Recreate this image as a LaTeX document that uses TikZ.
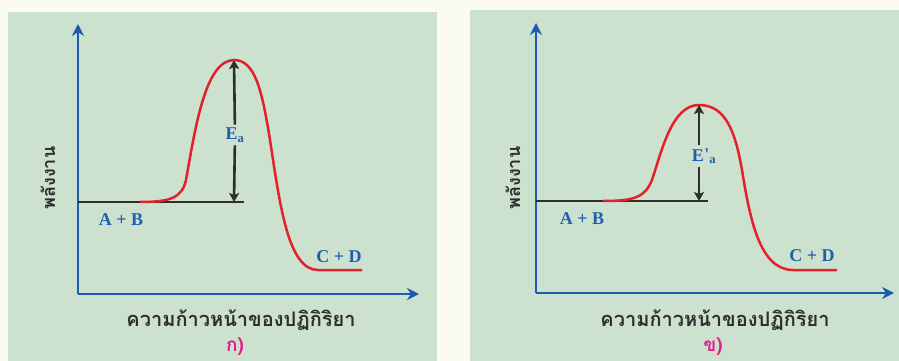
\documentclass[tikz,border=0pt]{standalone}
\usepackage{fontspec}
\setmainfont{Liberation Serif}
\newfontfamily\thaifont[Script=Thai]{Loma}
\usetikzlibrary{arrows.meta}
\definecolor{page}{HTML}{FBFAF3}
\definecolor{panel}{HTML}{CDE1CF}
\definecolor{axisblue}{HTML}{1C5CAE}
\definecolor{curvered}{HTML}{E3202E}
\definecolor{lineblk}{HTML}{2E2E2E}
\definecolor{lblblue}{HTML}{1F5FB0}
\definecolor{tagmag}{HTML}{E0208A}
\begin{document}
\begin{tikzpicture}[x=1pt,y=-1pt,
  axis/.style={draw=axisblue, line width=2.8pt, -{Stealth[length=12pt,width=12pt,inset=4pt]}},
  curve/.style={draw=curvered, line width=2.5pt},
  level/.style={draw=lineblk, line width=2.6pt},
  eaarrow/.style={draw=lineblk, line width=2.6pt, -{Stealth[length=9pt,width=10pt,inset=2pt]}},
  species/.style={text=lblblue, font=\bfseries\fontsize{18}{18}\selectfont, inner sep=1pt},
  ealbl/.style={text=lblblue, font=\bfseries\fontsize{18}{18}\selectfont, inner sep=3pt},
  ylbl/.style={text=lineblk, font=\thaifont\bfseries\fontsize{18}{18}\selectfont, rotate=90, inner sep=0pt},
  xlbl/.style={text=lineblk, font=\thaifont\bfseries\fontsize{20}{20}\selectfont, inner sep=0pt},
  tag/.style={text=tagmag, font=\thaifont\bfseries\fontsize{19}{19}\selectfont, inner sep=0pt}]
\useasboundingbox (0,0) rectangle (899,361);
\fill[page] (0,0) rectangle (899,361);
\fill[panel] (8,12) rectangle (437,361);
\fill[panel] (470,10) rectangle (899,361);

% ---------- panel 1 ----------
\coordinate (o1) at (78,294);
\coordinate (ytip1) at (78,24);
\coordinate (xtip1) at (419,294);
\coordinate (lv1) at (78,202);
\coordinate (lvend1) at (244,202);
\coordinate (peak1) at (234,60);
\coordinate (base1) at (234,202);
\draw[axis] (o1) -- (ytip1);
\draw[axis] (o1) -- (xtip1);
\draw[level] (lv1) -- (lvend1);
\draw[curve] (140,202) .. controls (170,202) and (182,198) .. (186,180)
  .. controls (195,130) and (205,60) .. (234,60)
  .. controls (255,60) and (262,90) .. (270,140)
  .. controls (280,205) and (288,270) .. (318,270) -- (362,270);
\node[ealbl] (ea1) at (235,135) {E\textsubscript{a}};
\draw[eaarrow] (ea1) -- (peak1);
\draw[eaarrow] (ea1) -- (base1);
\node[species] (ab1) at (121,220) {A + B};
\node[species] (cd1) at (339,257) {C + D};
\node[ylbl] (yl1) at (48,178) {พลังงาน};
\node[xlbl] (xl1) at (241,320) {ความก้าวหน้าของปฏิกิริยา};
\node[tag] (t1) at (235,347) {ก)};

% ---------- panel 2 ----------
\coordinate (o2) at (536,293);
\coordinate (ytip2) at (536,23);
\coordinate (xtip2) at (894,293);
\coordinate (lv2) at (536,201);
\coordinate (lvend2) at (708,201);
\coordinate (peak2) at (699,105);
\coordinate (base2) at (699,201);
\draw[axis] (o2) -- (ytip2);
\draw[axis] (o2) -- (xtip2);
\draw[level] (lv2) -- (lvend2);
\draw[curve] (603,201) .. controls (635,201) and (645,197) .. (652,180)
  .. controls (662,150) and (672,105) .. (699,105)
  .. controls (725,105) and (735,130) .. (742,170)
  .. controls (750,220) and (760,270) .. (793,270) -- (837,270);
\node[ealbl] (ea2) at (704,156) {E\kern0.5pt\raisebox{1pt}{\textquotesingle}\textsubscript{a}};
\draw[eaarrow] (ea2.north -| peak2) -- (peak2);
\draw[eaarrow] (ea2.south -| base2) -- (base2);
\node[species] (ab2) at (582,219) {A + B};
\node[species] (cd2) at (812,256) {C + D};
\node[ylbl] (yl2) at (513,178) {พลังงาน};
\node[xlbl] (xl2) at (715,320) {ความก้าวหน้าของปฏิกิริยา};
\node[tag] (t2) at (713,347) {ข)};
\end{tikzpicture}
\end{document}
